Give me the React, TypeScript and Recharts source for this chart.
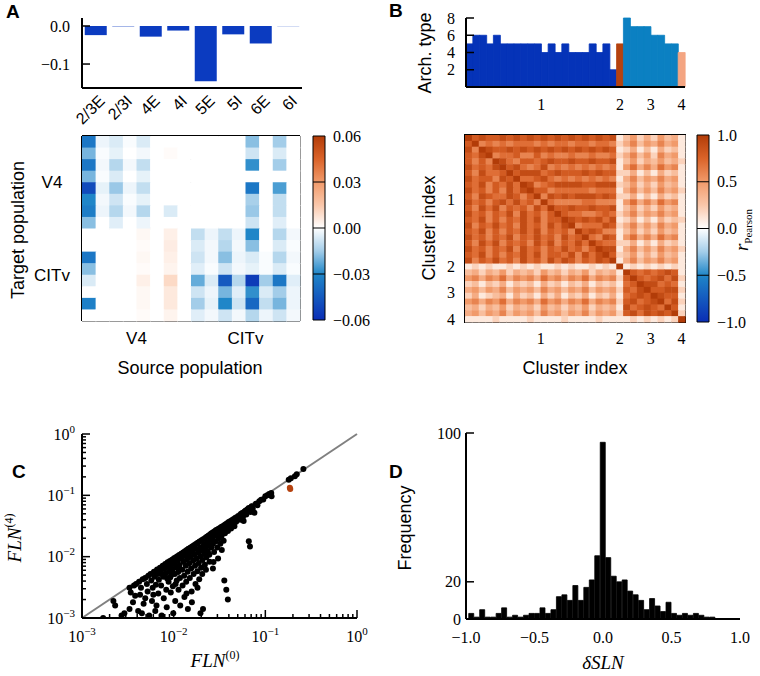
import React from "react";
import {
  BarChart,
  Bar,
  Cell,
  XAxis,
  YAxis,
  ScatterChart,
  Scatter,
  ReferenceLine,
  ReferenceArea,
} from "recharts";

const SANS = "'Liberation Sans', Arial, sans-serif";
const SERIF = "'Liberation Serif', 'DejaVu Serif', serif";

// ---------- Panel A: layer effect + connectivity change ----------
const layerNames = ["2/3E", "2/3I", "4E", "4I", "5E", "5I", "6E", "6I"];
const layerDelta = [-0.024, -0.001, -0.028, -0.012, -0.145, -0.022, -0.046, -0.0005];
const areaNames = ["V4", "CITv"];
// rows = target population, cols = source population (V4 layers then CITv layers)
const connDelta = [
  [-0.035, -0.003, -0.006, -0.001, -0.006, 0, 0, 0, 0, 0, 0, 0, -0.018, 0, -0.015, 0],
  [-0.02, -0.001, -0.004, 0, -0.002, 0, 0.001, 0, 0, 0, 0, 0, -0.008, 0, -0.006, 0],
  [-0.035, -0.002, -0.012, -0.002, -0.01, 0, 0, 0, 0, 0, 0, 0, -0.028, 0, -0.015, 0],
  [-0.02, -0.001, -0.006, 0, -0.004, 0, 0, 0, 0, 0, 0, 0, 0, 0, 0, 0],
  [-0.05, -0.004, -0.016, -0.003, -0.01, 0, 0, 0, 0, 0, 0, 0, -0.035, 0, -0.025, 0],
  [-0.03, -0.002, -0.008, -0.001, -0.004, 0, 0, 0, 0, 0, 0, 0, -0.014, 0, -0.01, 0],
  [-0.033, -0.003, -0.012, -0.002, -0.012, 0, -0.006, 0, 0, 0, 0, 0, -0.016, 0, -0.01, 0],
  [-0.018, 0, -0.005, 0, -0.003, 0, 0, 0, 0, 0, 0, 0, -0.008, 0, -0.005, 0],
  [0, 0, 0, 0, 0.002, 0, 0.004, 0, -0.01, -0.003, -0.01, -0.003, -0.03, 0, -0.012, -0.002],
  [0, 0, 0, 0, 0.001, 0, 0.005, 0, -0.006, -0.002, -0.012, -0.002, -0.018, 0, -0.006, -0.001],
  [-0.035, 0, 0, 0, 0.002, 0, 0.004, 0, -0.008, -0.002, -0.018, -0.003, -0.006, -0.001, -0.012, -0.002],
  [-0.018, 0, 0, 0, 0.001, 0, 0.003, 0, -0.005, -0.001, -0.008, -0.002, -0.004, -0.001, -0.006, -0.001],
  [-0.006, 0, 0, 0, 0.004, 0, 0.01, 0, -0.022, -0.006, -0.045, -0.012, -0.055, -0.015, -0.035, -0.005],
  [0, 0, 0, 0, 0.002, 0, 0.006, 0, -0.008, -0.003, -0.02, -0.005, -0.028, -0.006, -0.015, -0.003],
  [-0.032, 0, 0, 0, 0.002, 0, 0.006, 0, -0.015, -0.004, -0.03, -0.008, -0.04, -0.01, -0.02, -0.003],
  [0, 0, 0, 0, 0.001, 0, 0.003, 0, -0.005, -0.002, -0.008, -0.002, -0.012, -0.003, -0.008, -0.002],
];
const connTicks = [0.06, 0.03, 0, -0.03, -0.06];

// ---------- Panel B: archetypes + cluster correlation ----------
const archType = [5, 6, 6, 5, 6, 5, 5, 5, 5, 5, 5, 4, 5, 4, 5, 4, 4, 4, 5, 4, 5, 2, 5, 8, 7, 7, 7, 6, 6, 5, 5, 4];
const archCluster = [1, 1, 1, 1, 1, 1, 1, 1, 1, 1, 1, 1, 1, 1, 1, 1, 1, 1, 1, 1, 1, 1, 2, 3, 3, 3, 3, 3, 3, 3, 3, 4];
const clusterNames = ["1", "2", "3", "4"];
const clusterCenters = [11, 22.5, 27, 31.5];
const archTicks = [2, 4, 6, 8];
// lower triangle of the correlation matrix, one char per cell: tenths, X = 1.0
const corrRows = [
  "X",
  "8X",
  "96X",
  "879X",
  "8686X",
  "97879X",
  "869778X",
  "9788698X",
  "87968797X",
  "978686979X",
  "8698779868X",
  "97868979786X",
  "869796878697X",
  "9786879697868X",
  "87968687979688X",
  "968797869786979X",
  "8796868797968786X",
  "97868796879786978X",
  "869796878697968797X",
  "9786879697868797868X",
  "87968687979688796979X",
  "968797869786979868798X",
  "1212112121211212112121X",
  "34243524342534243524341X",
  "564657465647564657465628X",
  "2313241323142313241323178X",
  "45354635453645354635452879X",
  "241234142314241324132417898X",
  "5646574656475646574656289789X",
  "34243524342534243524341978987X",
  "45354635453645354635452" + "8979898X",
  "1111211112111121111211" + "1" + "12121212X",
];
const corrTicks = [1, 0.5, 0, -0.5, -1];

// ---------- Panel C: FLN before / after ----------
const flnPoints: [number, number][] = [
  [0.0017, 0.001], [0.0022, 0.0019], [0.0023, 0.0016], [0.0029, 0.0012], [0.0027, 0.0011],
  [0.0033, 0.0031], [0.0034, 0.0026], [0.0037, 0.0034], [0.0036, 0.0018], [0.0039, 0.0036],
  [0.0038, 0.0023], [0.0041, 0.0013], [0.0033, 0.0014],
  [0.0042, 0.0039], [0.0044, 0.0031], [0.0046, 0.0043], [0.0043, 0.0024], [0.0047, 0.0017],
  [0.0049, 0.0045], [0.0051, 0.0036], [0.0053, 0.0049], [0.0052, 0.0027], [0.0054, 0.0011],
  [0.0056, 0.0052], [0.0057, 0.0041], [0.0059, 0.0031], [0.0058, 0.0019], [0.0061, 0.0057],
  [0.0062, 0.0047], [0.0063, 0.0013], [0.0064, 0.0035], [0.0066, 0.0062], [0.0067, 0.0052],
  [0.0068, 0.0025], [0.0069, 0.0042], [0.0045, 0.0012], [0.0049, 0.0021], [0.006, 0.0024],
  [0.0065, 0.0016],
  [0.0071, 0.0066], [0.0072, 0.0058], [0.0073, 0.0034], [0.0074, 0.0011], [0.0076, 0.0071],
  [0.0077, 0.0047], [0.0078, 0.0021], [0.0079, 0.0063], [0.0081, 0.0076], [0.0082, 0.0053],
  [0.0083, 0.0029], [0.0084, 0.0015], [0.0086, 0.0081], [0.0087, 0.0068], [0.0088, 0.0039],
  [0.0089, 0.0057], [0.0091, 0.0085], [0.0092, 0.0046], [0.0093, 0.0026], [0.0094, 0.0072],
  [0.0096, 0.0089], [0.0097, 0.0061], [0.0098, 0.0033], [0.0099, 0.0012], [0.0101, 0.0094],
  [0.0102, 0.0079], [0.0103, 0.0052], [0.0104, 0.0019], [0.0106, 0.0098], [0.0107, 0.0067],
  [0.0108, 0.0041], [0.011, 0.0102], [0.0111, 0.0086], [0.0112, 0.0056], [0.0113, 0.0029],
  [0.0115, 0.0106], [0.0116, 0.0073], [0.0117, 0.0045], [0.0118, 0.0016], [0.0119, 0.0093],
  [0.0073, 0.0052], [0.0085, 0.0044], [0.0095, 0.0051], [0.0105, 0.0036], [0.0114, 0.0063],
  [0.0121, 0.0112], [0.0123, 0.0097], [0.0124, 0.0061], [0.0125, 0.0034], [0.0127, 0.0117],
  [0.0129, 0.0082], [0.013, 0.0049], [0.0131, 0.0022], [0.0133, 0.0123], [0.0134, 0.0104],
  [0.0136, 0.0071], [0.0137, 0.0039], [0.0139, 0.0128], [0.014, 0.0091], [0.0142, 0.0057],
  [0.0143, 0.0014], [0.0145, 0.0134], [0.0147, 0.0113], [0.0148, 0.0078], [0.015, 0.0045],
  [0.0152, 0.014], [0.0154, 0.0099], [0.0155, 0.0064], [0.0157, 0.0027], [0.0159, 0.0147],
  [0.0161, 0.0121], [0.0163, 0.0086], [0.0165, 0.0052], [0.0167, 0.0154], [0.0169, 0.0107],
  [0.0171, 0.0071], [0.0173, 0.0036], [0.0175, 0.0161], [0.0177, 0.0133], [0.0179, 0.0094],
  [0.0181, 0.0058], [0.0183, 0.0169], [0.0186, 0.0117], [0.0188, 0.0079], [0.019, 0.0043],
  [0.0192, 0.0176], [0.0195, 0.0142], [0.0197, 0.0102], [0.0199, 0.0066], [0.0202, 0.0185],
  [0.0204, 0.0126], [0.0206, 0.0088], [0.0209, 0.0014], [0.0211, 0.0193], [0.0214, 0.0156],
  [0.0216, 0.0111], [0.0219, 0.0074], [0.0221, 0.0202], [0.0224, 0.0139], [0.0227, 0.0098],
  [0.023, 0.0211], [0.0233, 0.0171], [0.0236, 0.0122], [0.0239, 0.0219], [0.0242, 0.0151],
  [0.0245, 0.0107], [0.0248, 0.0228], [0.0196, 0.0012], [0.0182, 0.0031], [0.0158, 0.0018],
  [0.0138, 0.0025], [0.0205, 0.0052], [0.0225, 0.0061], [0.0246, 0.0083],
  [0.0252, 0.0187], [0.0255, 0.0236], [0.0258, 0.0142], [0.0262, 0.0244], [0.0265, 0.0201],
  [0.0268, 0.0162], [0.0272, 0.0253], [0.0276, 0.0119], [0.0279, 0.0219], [0.0283, 0.0262],
  [0.0287, 0.0177], [0.0291, 0.0271], [0.0295, 0.0236], [0.0299, 0.0141], [0.0304, 0.0281],
  [0.0308, 0.0196], [0.0313, 0.0289], [0.0318, 0.0252], [0.0323, 0.0162], [0.0328, 0.0301],
  [0.0333, 0.0218], [0.0339, 0.0311], [0.0345, 0.0271], [0.0351, 0.0182], [0.0357, 0.0041],
  [0.0357, 0.0326], [0.0363, 0.0241], [0.037, 0.0338], [0.0375, 0.0029], [0.0377, 0.0293],
  [0.0384, 0.0351], [0.039, 0.002], [0.0391, 0.0262], [0.0399, 0.0366], [0.0407, 0.0318],
  [0.0415, 0.0379], [0.0423, 0.0288], [0.0432, 0.0392], [0.0441, 0.0345], [0.045, 0.0408],
  [0.046, 0.0314], [0.047, 0.0426], [0.048, 0.0371], [0.049, 0.0441], [0.0272, 0.0082],
  [0.0305, 0.0093], [0.0335, 0.0128], [0.0268, 0.0064],
  [0.051, 0.0462], [0.053, 0.0398], [0.054, 0.0495], [0.056, 0.0517], [0.057, 0.0442],
  [0.059, 0.0541], [0.061, 0.0568], [0.062, 0.0488], [0.064, 0.0592], [0.066, 0.0623],
  [0.066, 0.0178], [0.068, 0.0147], [0.069, 0.0536], [0.071, 0.0664], [0.073, 0.0602],
  [0.076, 0.0522], [0.079, 0.0731], [0.082, 0.0688], [0.086, 0.0801], [0.09, 0.0846],
  [0.095, 0.0855], [0.1, 0.097], [0.105, 0.1], [0.11, 0.105], [0.116, 0.109],
  [0.117, 0.097], [0.058, 0.0383],
  [0.18, 0.18], [0.19, 0.19], [0.21, 0.205], [0.22, 0.22], [0.26, 0.27],
];
const flnHighlight: [number, number][] = [[0.185, 0.133], [0.187, 0.127]];
const logMajor = [0.001, 0.01, 0.1, 1];
const logTicks = [
  ...logMajor,
  ...[0.001, 0.01, 0.1].flatMap((d) => [2, 3, 4, 5, 6, 7, 8, 9].map((m) => m * d)),
];

// ---------- Panel D: delta SLN histogram ----------
const slnCounts = [
  3, 1, 5, 1, 1, 3, 6, 1, 2, 1, 2, 3, 3, 6, 3, 5, 12, 13, 10, 18, 10, 17, 21, 34,
  95,
  33, 23, 20, 21, 15, 13, 10, 5, 11, 7, 4, 9, 3, 2, 3, 2, 3, 2, 1, 1, 0, 0, 0, 0,
];
const slnFirstBin = -0.96;
const slnBinWidth = 0.04;
const slnTicks = [-1, -0.5, 0, 0.5, 1];
const freqTicks = [0, 20, 100];

// ---------- colours ----------
const cmap: [number, string][] = [
  [-1, "#0a2db5"],
  [-0.5, "#1f86c8"],
  [-0.25, "#a3cde9"],
  [0, "#ffffff"],
  [0.25, "#fac7aa"],
  [0.5, "#f19a6a"],
  [0.75, "#da6329"],
  [1, "#b23c08"],
];
const clusterColors = ["#0533b8", "#b5420f", "#0b80c2", "#f4a582"];
const barBlue = "#0b3bc0";

const hexRgb = (h: string) => [1, 3, 5].map((i) => parseInt(h.slice(i, i + 2), 16));
function divColor(t: number) {
  const v = Math.max(-1, Math.min(1, t));
  for (let i = 1; i < cmap.length; i++) {
    if (v <= cmap[i][0]) {
      const [t0, c0] = cmap[i - 1];
      const [t1, c1] = cmap[i];
      const f = (v - t0) / (t1 - t0);
      const a = hexRgb(c0);
      const b = hexRgb(c1);
      return `rgb(${a.map((x, k) => Math.round(x + (b[k] - x) * f)).join(",")})`;
    }
  }
  return cmap[cmap.length - 1][1];
}

const fmt = (v: number, d: number) => (v < 0 ? "\u2212" : "") + Math.abs(v).toFixed(d);
const axisStyle = { stroke: "#000", strokeWidth: 2 };

// ---------- tick renderers (inward ticks, matplotlib style) ----------
type TickOpt = {
  len?: number;
  minorLen?: number;
  gap?: number;
  font?: string;
  size?: number;
  anchor?: "start" | "middle" | "end";
  isMajor?: (v: number) => boolean;
  label: (v: number) => React.ReactNode;
};

const leftTick = (o: TickOpt) => (p: any) => {
  const v = p.payload.value;
  const major = o.isMajor ? o.isMajor(v) : true;
  const len = major ? o.len || 0 : o.minorLen || 0;
  return (
    <g>
      {len > 0 && <line x1={p.x} x2={p.x + len} y1={p.y} y2={p.y} stroke="#000" strokeWidth={1.5} />}
      {major && (
        <text x={p.x - (o.gap || 0)} y={p.y} dy="0.35em" textAnchor={o.anchor || "end"} fontFamily={o.font} fontSize={o.size}>
          {o.label(v)}
        </text>
      )}
    </g>
  );
};

const rightTick = (o: TickOpt) => (p: any) => (
  <text x={p.x + (o.gap || 0)} y={p.y} dy="0.35em" textAnchor="start" fontFamily={o.font} fontSize={o.size}>
    {o.label(p.payload.value)}
  </text>
);

const bottomTick = (o: TickOpt) => (p: any) => {
  const v = p.payload.value;
  const major = o.isMajor ? o.isMajor(v) : true;
  const len = major ? o.len || 0 : o.minorLen || 0;
  return (
    <g>
      {len > 0 && <line x1={p.x} x2={p.x} y1={p.y} y2={p.y - len} stroke="#000" strokeWidth={1.5} />}
      {major && (
        <text x={p.x} y={p.y + (o.gap || 0)} dy="0.35em" textAnchor="middle" fontFamily={o.font} fontSize={o.size}>
          {o.label(v)}
        </text>
      )}
    </g>
  );
};

const isDecade = (v: number) => Math.abs(Math.log10(v) - Math.round(Math.log10(v))) < 1e-6;
const pow10Label = (v: number) => (
  <>
    10<tspan dy={-7} fontSize={11}>{fmt(Math.round(Math.log10(v)), 0)}</tspan>
  </>
);

const noTick = { tickLine: false, tickSize: 0, tickMargin: 0, interval: 0 as const };

// ---------- colorbar ----------
function ColorBar({ id, ticks, max, labelDigits, height }: { id: string; ticks: number[]; max: number; labelDigits: number; height: number }) {
  const pts = ticks.map((t) => ({ x: 0.5, y: t }));
  return (
    <ScatterChart width={76} height={height} margin={{ top: 7, right: 0, bottom: 15, left: 13 }}>
      <defs>
        <linearGradient id={id} x1="0" y1="0" x2="0" y2="1">
          {[...cmap].reverse().map(([t, c]) => (
            <stop key={t} offset={`${((1 - t) / 2) * 100}%`} stopColor={c} />
          ))}
        </linearGradient>
      </defs>
      <XAxis type="number" dataKey="x" domain={[0, 1]} hide />
      <YAxis
        type="number"
        dataKey="y"
        orientation="right"
        domain={[-max, max]}
        ticks={ticks}
        allowDataOverflow
        width={51}
        axisLine={false}
        {...noTick}
        tick={rightTick({ gap: 8, font: SERIF, size: 16, label: (v) => fmt(v, labelDigits) })}
      />
      <ReferenceArea x1={0} x2={1} y1={-max} y2={max} fill={`url(#${id})`} fillOpacity={1} stroke="#000" strokeWidth={1} />
      {ticks.slice(1, -1).map((t) => (
        <ReferenceLine key={t} y={t} stroke="#000" strokeWidth={1} />
      ))}
      <Scatter data={pts} isAnimationActive={false} shape={() => <g />} />
    </ScatterChart>
  );
}

// ---------- panels ----------
function LayerBars() {
  const data = layerNames.map((name, i) => ({ name, v: layerDelta[i] }));
  return (
    <BarChart width={320} height={140} data={data} margin={{ top: 18, right: 18, bottom: 0, left: 0 }} barCategoryGap="10%">
      <XAxis
        dataKey="name"
        height={52}
        axisLine={axisStyle}
        {...noTick}
        tick={(p: any) => (
          <text
            x={p.x + 10}
            y={p.y + 14}
            textAnchor="end"
            transform={`rotate(-45 ${p.x + 10} ${p.y + 14})`}
            fontFamily={SANS}
            fontSize={16}
          >
            {p.payload.value}
          </text>
        )}
      />
      <YAxis
        domain={[-0.163, 0.021]}
        ticks={[0, -0.1]}
        allowDataOverflow
        width={82}
        axisLine={axisStyle}
        {...noTick}
        tick={leftTick({ len: 8, gap: 12, font: SERIF, size: 16, label: (v) => fmt(v, 1) })}
      />
      <Bar dataKey="v" fill={barBlue} isAnimationActive={false} />
    </BarChart>
  );
}

function ConnHeatmap() {
  const cw = 218 / 16;
  const chh = 185 / 16;
  const data = connDelta.flatMap((row, r) => row.map((v, c) => ({ x: c + 0.5, y: r + 0.5, v })));
  const areaLabel = (v: number) => areaNames[v < 8 ? 0 : 1];
  return (
    <ScatterChart width={310} height={250} margin={{ top: 6, right: 10, bottom: 0, left: 0 }}>
      <XAxis
        type="number"
        dataKey="x"
        domain={[0, 16]}
        ticks={[4, 12]}
        height={59}
        axisLine={false}
        {...noTick}
        tick={bottomTick({ gap: 17, font: SANS, size: 17, label: areaLabel })}
      />
      <YAxis
        type="number"
        dataKey="y"
        domain={[0, 16]}
        reversed
        ticks={[4, 12]}
        width={82}
        axisLine={false}
        {...noTick}
        tick={leftTick({ gap: 30, anchor: "middle", font: SANS, size: 17, label: areaLabel })}
      />
      <Scatter
        data={data}
        isAnimationActive={false}
        shape={(p: any) => (
          <rect x={p.cx - cw / 2} y={p.cy - chh / 2} width={cw + 0.6} height={chh + 0.6} fill={divColor(p.payload.v / 0.06)} />
        )}
      />
      {[0, 8, 16].map((k) => (
        <ReferenceLine key={`x${k}`} x={k} stroke="#000" strokeWidth={2} />
      ))}
      {[0, 8, 16].map((k) => (
        <ReferenceLine key={`y${k}`} y={k} stroke="#000" strokeWidth={2} />
      ))}
    </ScatterChart>
  );
}

function ArchBars() {
  const data = archType.map((v, i) => ({ x: i + 0.5, v, c: archCluster[i] }));
  return (
    <BarChart width={320} height={120} data={data} margin={{ top: 18, right: 15, bottom: 0, left: 0 }} barCategoryGap={0} barGap={0}>
      <XAxis
        type="number"
        dataKey="x"
        domain={[0, 32]}
        ticks={clusterCenters}
        height={33}
        axisLine={axisStyle}
        {...noTick}
        tick={bottomTick({ gap: 17, font: SERIF, size: 16, label: (v) => clusterNames[clusterCenters.indexOf(v)] })}
      />
      <YAxis
        domain={[0, 8]}
        ticks={archTicks}
        width={86}
        axisLine={axisStyle}
        {...noTick}
        tick={leftTick({ len: 8, gap: 11, font: SERIF, size: 16, label: (v) => String(v) })}
      />
      <Bar dataKey="v" isAnimationActive={false}>
        {data.map((d, i) => (
          <Cell key={i} fill={clusterColors[d.c - 1]} stroke={clusterColors[d.c - 1]} strokeWidth={0.8} />
        ))}
      </Bar>
    </BarChart>
  );
}

function CorrHeatmap() {
  const n = corrRows.length;
  const cw = 220 / n;
  const chh = 187 / n;
  const level = (ch: string) => (ch === "X" ? 1 : Number(ch) / 10);
  const val = (i: number, j: number) => (i >= j ? level(corrRows[i][j]) : level(corrRows[j][i]));
  const data = corrRows.flatMap((_, i) => corrRows.map((__, j) => ({ x: j + 0.5, y: i + 0.5, v: val(i, j) })));
  const lab = (v: number) => clusterNames[clusterCenters.indexOf(v)];
  return (
    <ScatterChart width={310} height={234} margin={{ top: 7, right: 5, bottom: 0, left: 0 }}>
      <XAxis
        type="number"
        dataKey="x"
        domain={[0, n]}
        ticks={clusterCenters}
        height={40}
        axisLine={false}
        {...noTick}
        tick={bottomTick({ gap: 16, font: SERIF, size: 16, label: lab })}
      />
      <YAxis
        type="number"
        dataKey="y"
        domain={[0, n]}
        reversed
        ticks={clusterCenters}
        width={85}
        axisLine={false}
        {...noTick}
        tick={leftTick({ gap: 10, font: SERIF, size: 16, label: lab })}
      />
      <Scatter
        data={data}
        isAnimationActive={false}
        shape={(p: any) => (
          <rect x={p.cx - cw / 2} y={p.cy - chh / 2} width={cw + 0.5} height={chh + 0.5} fill={divColor(p.payload.v)} />
        )}
      />
      <ReferenceArea x1={0} x2={n} y1={0} y2={n} fill="none" stroke="#000" strokeWidth={2} />
    </ScatterChart>
  );
}

function FlnScatter() {
  const pts = flnPoints.map(([x, y]) => ({ x, y }));
  const hl = flnHighlight.map(([x, y]) => ({ x, y }));
  const dot = (fill: string) => (p: any) => <circle cx={p.cx} cy={p.cy} r={3} fill={fill} />;
  return (
    <ScatterChart width={370} height={226} margin={{ top: 14, right: 13, bottom: 0, left: 0 }}>
      <XAxis
        type="number"
        dataKey="x"
        scale="log"
        domain={[0.001, 1]}
        ticks={logTicks}
        allowDataOverflow
        height={28}
        axisLine={axisStyle}
        {...noTick}
        tick={bottomTick({ len: 8, minorLen: 4, gap: 18, font: SERIF, size: 16, isMajor: isDecade, label: pow10Label })}
      />
      <YAxis
        type="number"
        dataKey="y"
        scale="log"
        domain={[0.001, 1]}
        ticks={logTicks}
        allowDataOverflow
        width={82}
        axisLine={axisStyle}
        {...noTick}
        tick={leftTick({ len: 8, minorLen: 4, gap: 7, font: SERIF, size: 16, isMajor: isDecade, label: pow10Label })}
      />
      <ReferenceLine
        segment={[
          { x: 0.001, y: 0.001 },
          { x: 1, y: 1 },
        ]}
        stroke="#808080"
        strokeWidth={2}
      />
      <Scatter data={pts} isAnimationActive={false} shape={dot("#000")} />
      <Scatter data={hl} isAnimationActive={false} shape={dot("#b5420f")} />
    </ScatterChart>
  );
}

function SlnHistogram() {
  const data = slnCounts.map((n, i) => ({ x: slnFirstBin + i * slnBinWidth, n }));
  return (
    <BarChart width={370} height={227} data={data} margin={{ top: 13, right: 10, bottom: 0, left: 0 }} barCategoryGap={0} barGap={0}>
      <XAxis
        type="number"
        dataKey="x"
        domain={[-1, 1]}
        ticks={slnTicks}
        height={28}
        axisLine={axisStyle}
        {...noTick}
        tick={bottomTick({ gap: 18, font: SERIF, size: 16, label: (v) => fmt(v, 1) })}
      />
      <YAxis
        domain={[0, 100]}
        ticks={freqTicks}
        width={86}
        axisLine={axisStyle}
        {...noTick}
        tick={leftTick({ len: 8, gap: 5, font: SERIF, size: 16, label: (v) => String(v) })}
      />
      <Bar dataKey="n" fill="#000" stroke="#000" strokeWidth={0.8} isAnimationActive={false} />
    </BarChart>
  );
}

const at = (left: number, top: number): React.CSSProperties => ({ position: "absolute", left, top });

export default function App() {
  return (
    <div style={{ position: "relative", width: 760, height: 676, background: "#fff", overflow: "hidden" }}>
      <style>{"body{margin:0}"}</style>
      <div style={at(0, 0)}><LayerBars /></div>
      <div style={at(0, 130)}><ConnHeatmap /></div>
      <div style={at(300, 129)}>
        <ColorBar id="cbA" ticks={connTicks} max={0.06} labelDigits={2} height={206} />
      </div>
      <div style={at(380, 0)}><ArchBars /></div>
      <div style={at(380, 128)}><CorrHeatmap /></div>
      <div style={at(684, 128)}>
        <ColorBar id="cbB" ticks={corrTicks} max={1} labelDigits={1} height={209} />
      </div>
      <div style={at(0, 420)}><FlnScatter /></div>
      <div style={at(380, 420)}><SlnHistogram /></div>

      <svg width={760} height={676} style={{ position: "absolute", left: 0, top: 0, pointerEvents: "none" }}>
        <g fontFamily={SANS} fontWeight="bold" fontSize={19}>
          <text x={6} y={18}>A</text>
          <text x={389} y={17}>B</text>
          <text x={12} y={478}>C</text>
          <text x={389} y={478}>D</text>
        </g>
        <g fontFamily={SANS} fontSize={18} textAnchor="middle">
          <text transform="translate(24 230) rotate(-90)">Target population</text>
          <text x={190} y={374}>Source population</text>
          <text transform="translate(431 53) rotate(-90)">Arch. type</text>
          <text transform="translate(435 228) rotate(-90)">Cluster index</text>
          <text x={575} y={374}>Cluster index</text>
          <text transform="translate(411 528) rotate(-90)">Frequency</text>
        </g>
        <g fontFamily={SERIF} fontSize={19} textAnchor="middle">
          <text transform="translate(748 230) rotate(-90)">
            <tspan fontStyle="italic">r</tspan>
            <tspan dy={4} fontSize={11}>Pearson</tspan>
          </text>
          <text transform="translate(21 538) rotate(-90)">
            <tspan fontStyle="italic">FLN</tspan>
            <tspan dy={-8} fontSize={12}>(4)</tspan>
          </text>
          <text x={215} y={667}>
            <tspan fontStyle="italic">FLN</tspan>
            <tspan dy={-8} fontSize={12}>(0)</tspan>
          </text>
          <text x={603} y={669} fontStyle="italic">δSLN</text>
        </g>
      </svg>
    </div>
  );
}
